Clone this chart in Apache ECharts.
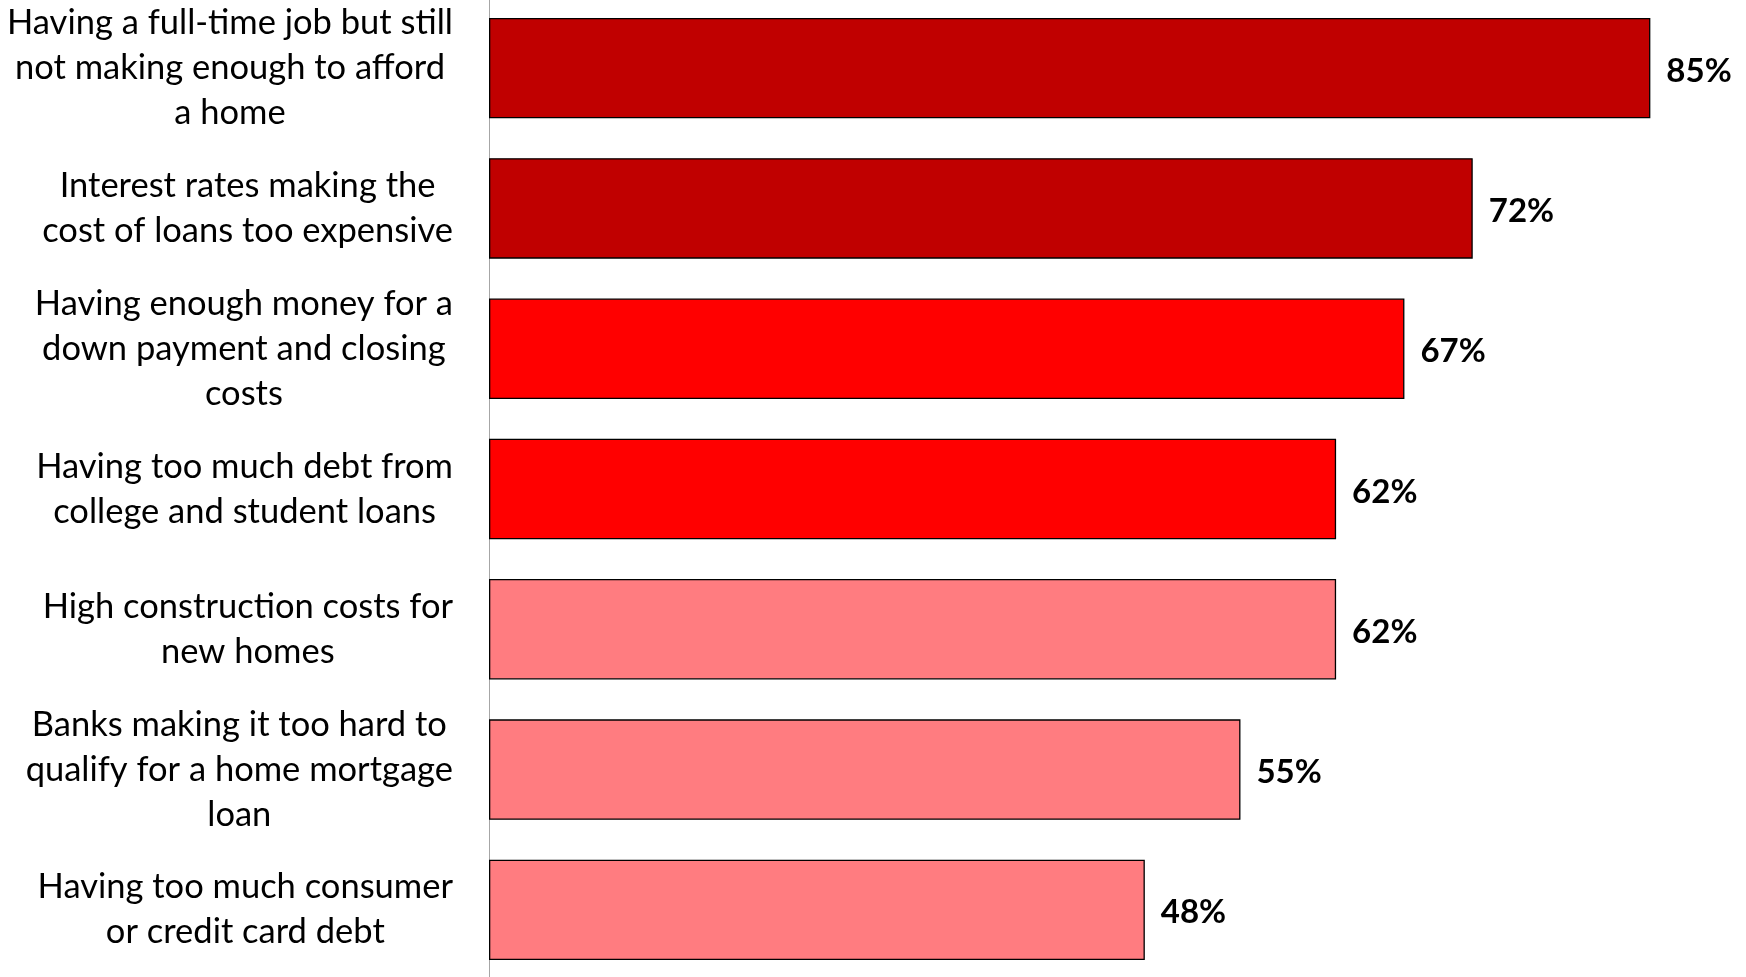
<!DOCTYPE html>
<html>
<head>
<meta charset="utf-8">
<script src="https://cdn.jsdelivr.net/npm/echarts@6/dist/echarts.min.js"></script>
<style>
  html, body { margin: 0; padding: 0; background: #fff; overflow: hidden; }
  /* shifted up 2px so the category bands line up with the original */
  #chart { position: absolute; left: 0; top: -2px; width: 1746px; height: 985px; }
</style>
</head>
<body>
<div id="chart"></div>
<script>
// categories, top to bottom (line breaks as in the original)
var categories = [
	'Having a full-time job but still\nnot making enough to afford\na home',
	'Interest rates making the\ncost of loans too expensive',
	'Having enough money for a\ndown payment and closing\ncosts',
	'Having too much debt from\ncollege and student loans',
	'High construction costs for\nnew homes',
	'Banks making it too hard to\nqualify for a home mortgage\nloan',
	'Having too much consumer\nor credit card debt'
];
var values = [85, 72, 67, 62, 62, 55, 48];
var barColors = ['#C00000', '#C00000', '#FF0000', '#FF0000', '#FF7C80', '#FF7C80', '#FF7C80'];

var chart = echarts.init(document.getElementById('chart'));

var seriesData = [];
values.forEach(function (v, i) {
	seriesData.push({ value: v, itemStyle: { color: barColors[i] } });
});

var option = {
	animation: false,
	grid: { left: 489, right: 0, top: 0, height: 982, containLabel: false },
	xAxis: {
		type: 'value',
		min: 0,
		max: 92,
		show: false
	},
	yAxis: {
		type: 'category',
		data: categories,
		inverse: true,
		axisLine: { show: true, lineStyle: { color: '#A6A6A6', width: 1 } },
		axisTick: { show: false },
		axisLabel: {
			margin: 36,
			align: 'right',
			// lines centred inside a right-aligned block
			formatter: function (val) {
				return '{c|' + val + '}';
			},
			rich: {
				c: {
					align: 'center',
					fontFamily: 'Lato',
					fontSize: 34.5,
					lineHeight: 45,
					color: '#000'
				}
			}
		}
	},
	series: [{
		type: 'bar',
		data: seriesData,
		barCategoryGap: '28.4%',
		itemStyle: { borderColor: '#000', borderWidth: 1.3 },
		label: {
			show: true,
			position: 'right',
			distance: 16,
			formatter: '{c}%',
			fontFamily: 'Lato',
			fontWeight: 'bold',
			fontSize: 33,
			color: '#000',
			offset: [0, 3]
		}
	}]
};
chart.setOption(option);
</script>
</body>
</html>
